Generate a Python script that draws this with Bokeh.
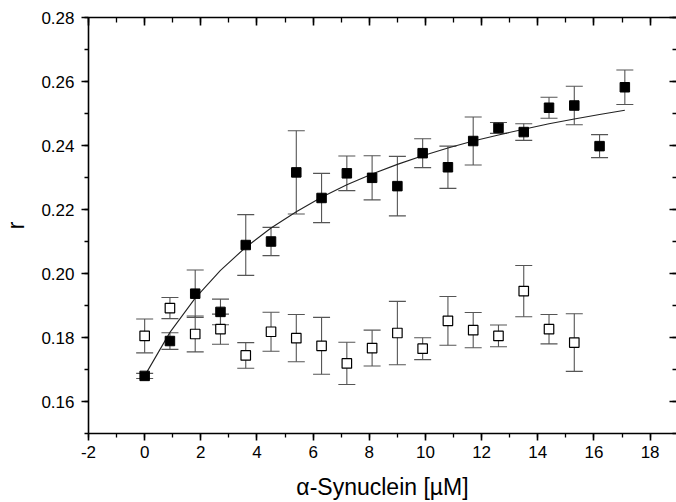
from bokeh.plotting import figure
from bokeh.models import (Range1d, LinearAxis, SingleIntervalTicker, NumeralTickFormatter,
                          Whisker, TeeHead, ColumnDataSource)
from bokeh.embed import file_html
from bokeh.resources import INLINE

# ---- data ----
conc = [0.0, 0.9, 1.8, 2.7, 3.6, 4.5, 5.4, 6.3, 7.2, 8.1, 9.0, 9.9,
        10.8, 11.7, 12.6, 13.5, 14.4, 15.3, 16.2, 17.1]
r_filled = [0.1680, 0.1789, 0.1937, 0.1880, 0.2089, 0.2100, 0.2316, 0.2236,
            0.2313, 0.2299, 0.2273, 0.2376, 0.2332, 0.2414, 0.2455, 0.2442,
            0.2518, 0.2525, 0.2398, 0.2582]
err_filled = [0.0008, 0.0026, 0.0074, 0.0040, 0.0095, 0.0044, 0.0130, 0.0077,
              0.0054, 0.0069, 0.0093, 0.0045, 0.0066, 0.0075, 0.0017, 0.0026,
              0.0033, 0.0060, 0.0036, 0.0054]

conc_open = [0.0, 0.9, 1.8, 2.7, 3.6, 4.5, 5.4, 6.3, 7.2, 8.1, 9.0, 9.9,
             10.8, 11.7, 12.6, 13.5, 14.4, 15.3]
r_open = [0.1805, 0.1892, 0.1811, 0.1826, 0.1744, 0.1818, 0.1798, 0.1774,
          0.1719, 0.1767, 0.1814, 0.1765, 0.1852, 0.1823, 0.1805, 0.1945,
          0.1826, 0.1784]
err_open = [0.0053, 0.0033, 0.0056, 0.0047, 0.0040, 0.0061, 0.0074, 0.0089,
            0.0066, 0.0056, 0.0099, 0.0034, 0.0076, 0.0055, 0.0034, 0.0080,
            0.0046, 0.0090]

fit_conc = conc
fit_r = [0.1680, 0.1816, 0.1923, 0.2010, 0.2082, 0.2142, 0.2193, 0.2238,
         0.2277, 0.2311, 0.2341, 0.2368, 0.2392, 0.2414, 0.2433, 0.2451,
         0.2468, 0.2483, 0.2497, 0.2510]

x_ticks_interval = 2
y_ticks_interval = 0.02

FONT = "Liberation Sans"
ERR_COLOR = "#555555"

p = figure(width=676, height=502, output_backend="svg", toolbar_location=None,
           x_range=Range1d(-2, 18.94), y_range=Range1d(0.15, 0.28),
           min_border_left=86, min_border_right=0, min_border_top=17,
           min_border_bottom=69, x_axis_location=None, y_axis_location=None)
p.outline_line_color = None
p.grid.visible = False
p.background_fill_color = "white"
p.border_fill_color = "white"

def style_axis(ax, labels=True):
    ax.axis_line_width = 1.6
    ax.axis_line_color = "black"
    ax.major_tick_line_width = 1.6
    ax.minor_tick_line_width = 1.3
    ax.major_tick_line_color = "black"
    ax.minor_tick_line_color = "black"
    ax.major_label_text_font = FONT
    ax.major_label_text_font_size = "17px"
    ax.major_label_text_color = "black" if labels else None
    ax.axis_label_text_font = FONT
    ax.axis_label_text_font_style = "normal"
    ax.axis_label_text_font_size = "23px"
    ax.axis_label_text_color = "black"

xt = SingleIntervalTicker(interval=x_ticks_interval, num_minor_ticks=2)
yt = SingleIntervalTicker(interval=y_ticks_interval, num_minor_ticks=2)

bottom = LinearAxis(ticker=xt, axis_label="α-Synuclein [µM]",
                    formatter=NumeralTickFormatter(format="0"))
style_axis(bottom)
bottom.major_tick_out = 7; bottom.major_tick_in = 0
bottom.minor_tick_out = 4; bottom.minor_tick_in = 0
bottom.major_label_standoff = 5
bottom.axis_label_standoff = 13
p.add_layout(bottom, "below")

left = LinearAxis(ticker=yt, axis_label="r", formatter=NumeralTickFormatter(format="0.00"))
style_axis(left)
left.major_tick_out = 7; left.major_tick_in = 0
left.minor_tick_out = 4; left.minor_tick_in = 0
left.major_label_standoff = 7
left.axis_label_standoff = 9
p.add_layout(left, "left")

top = LinearAxis(ticker=SingleIntervalTicker(interval=x_ticks_interval, num_minor_ticks=2))
style_axis(top, labels=False)
top.major_tick_out = 0; top.major_tick_in = 8
top.minor_tick_out = 0; top.minor_tick_in = 5
top.major_label_standoff = 0
p.add_layout(top, "above")

right = LinearAxis(ticker=SingleIntervalTicker(interval=y_ticks_interval, num_minor_ticks=2))
style_axis(right, labels=False)
right.axis_line_color = None
right.major_tick_out = 0; right.major_tick_in = 7
right.minor_tick_out = 0; right.minor_tick_in = 4
right.major_label_standoff = 0
p.add_layout(right, "right")

# fit curve
p.line(fit_conc, fit_r, line_color="#222222", line_width=1.1)

# error bars
src_f = ColumnDataSource(dict(x=conc, y=r_filled,
                              up=[v + e for v, e in zip(r_filled, err_filled)],
                              lo=[v - e for v, e in zip(r_filled, err_filled)]))
src_o = ColumnDataSource(dict(x=conc_open, y=r_open,
                              up=[v + e for v, e in zip(r_open, err_open)],
                              lo=[v - e for v, e in zip(r_open, err_open)]))
for src in (src_f, src_o):
    w = Whisker(source=src, base="x", upper="up", lower="lo", dimension="height",
                line_color=ERR_COLOR, line_width=1.1,
                upper_head=TeeHead(size=17, line_color=ERR_COLOR, line_width=1.1),
                lower_head=TeeHead(size=17, line_color=ERR_COLOR, line_width=1.1))
    p.add_layout(w)

p.scatter("x", "y", source=src_o, marker="square", size=9.5, fill_color="white",
          line_color="black", line_width=1.2)
p.scatter("x", "y", source=src_f, marker="square", size=9.5, fill_color="black",
          line_color="black", line_width=1)

open("out.html", "w").write(file_html(p, INLINE))
